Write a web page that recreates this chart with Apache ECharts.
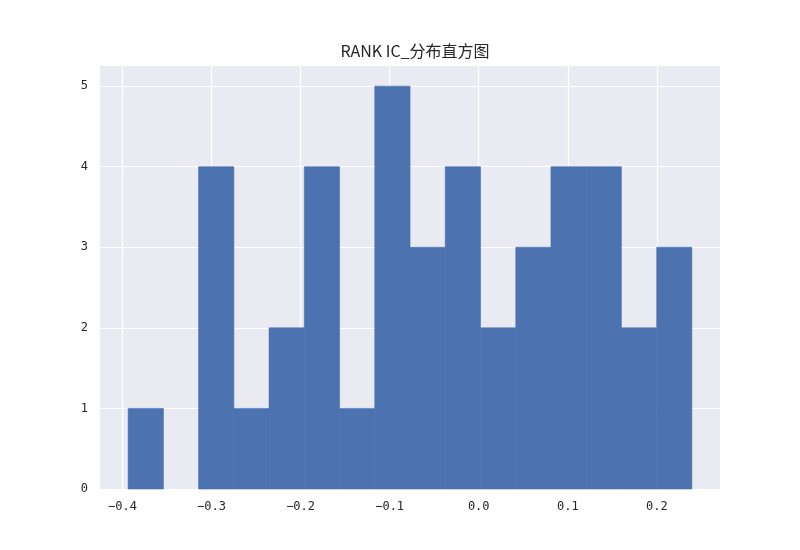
<!DOCTYPE html>
<html>
<head>
<meta charset="utf-8">
<script src="https://cdn.jsdelivr.net/npm/echarts@6/dist/echarts.min.js"></script>
<style>html,body{margin:0;padding:0;background:#fff}#c{width:800px;height:550px}</style>
</head>
<body>
<div id="c"></div>
<script>
const binEdges = [-0.3936, -0.3540, -0.3145, -0.2749, -0.2354, -0.1958, -0.1562, -0.1167, -0.0771, -0.0376, 0.0020, 0.0416, 0.0811, 0.1207, 0.1602, 0.1998, 0.2393];
const counts = [1, 0, 4, 1, 2, 4, 1, 5, 3, 4, 2, 3, 4, 4, 2, 3];
const xTicks = [-0.4, -0.3, -0.2, -0.1, 0.0, 0.1, 0.2];
const yTicks = [0, 1, 2, 3, 4, 5];
const titleText = 'RANK IC_分布直方图';

const bins = counts.map((c, i) => [binEdges[i], binEdges[i + 1], c]);
const chart = echarts.init(document.getElementById('c'));
const tickFont = 'DejaVu Sans Mono';
chart.setOption({
  backgroundColor: '#ffffff',
  animation: false,
  title: {
    text: titleText, left: 410, textAlign: 'center', top: 38,
    textStyle: { fontFamily: 'Noto Sans CJK SC', fontSize: 16, fontWeight: 'normal', color: '#262626' }
  },
  grid: { left: 100, right: 80, top: 66, bottom: 61, show: true, backgroundColor: '#EAEAF2', borderWidth: 0 },
  xAxis: {
    type: 'value', min: -0.4252, max: 0.2709,
    axisLine: { show: false },
    axisTick: { show: false, customValues: xTicks },
    axisLabel: {
      customValues: xTicks, margin: 12, color: '#262626', fontFamily: tickFont, fontSize: 12,
      formatter: v => (v < 0 ? '\u2212' : '') + Math.abs(v).toFixed(1)
    },
    splitLine: { show: true, lineStyle: { color: '#ffffff', width: 1.2 } }
  },
  yAxis: {
    type: 'value', min: 0, max: 5.25, interval: 1,
    axisLine: { show: false },
    axisTick: { show: false, customValues: yTicks },
    axisLabel: { customValues: yTicks, margin: 12, color: '#262626', fontFamily: tickFont, fontSize: 12, formatter: v => String(v) },
    splitLine: { show: true, lineStyle: { color: '#ffffff', width: 1.2 } }
  },
  series: [{
    type: 'custom',
    data: bins,
    encode: { x: [0, 1], y: 2 },
    renderItem: (params, api) => {
      if (!api.value(2)) return null;
      const p0 = api.coord([api.value(0), api.value(2)]);
      const p1 = api.coord([api.value(1), 0]);
      return {
        type: 'rect',
        shape: { x: p0[0], y: p0[1], width: p1[0] - p0[0], height: p1[1] - p0[1] },
        style: { fill: '#4C72B0', stroke: '#4C72B0', lineWidth: 0.6 }
      };
    }
  }]
});
</script>
</body>
</html>
